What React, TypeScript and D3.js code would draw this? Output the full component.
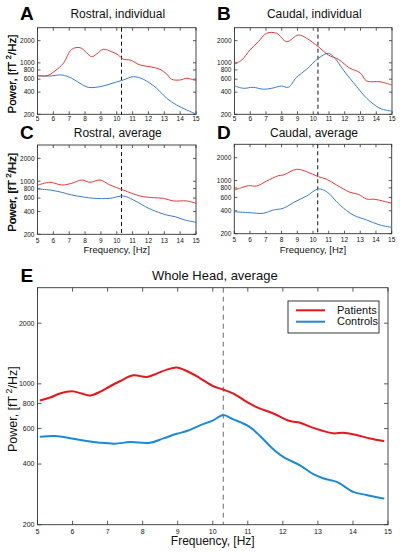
import React from "react";
import * as d3 from "d3";

// ---------- data ----------
const freqTicks = [5, 6, 7, 8, 9, 10, 11, 12, 13, 14, 15];
const powerTicks = [200, 400, 600, 800, 1000, 2000];
const alphaPeak = 10.3;

const rostralIndividualPatients: [number, number][] = [
  [5.05, 668], [5.6, 668], [6.1, 775], [6.63, 986], [7.16, 1527], [7.68, 1606], [8.1, 1374],
  [8.42, 1211], [8.73, 1318], [9.15, 1527], [9.68, 1416], [10.1, 1277], [10.41, 1117],
  [10.84, 1092], [11.47, 935], [12.1, 886], [12.73, 817], [13.15, 705], [13.47, 597],
  [14.0, 585], [14.42, 617], [15.0, 572],
];
const rostralIndividualControls: [number, number][] = [
  [5.05, 668], [5.79, 662], [6.53, 684], [7.16, 617], [7.68, 527], [8.2, 465], [8.94, 474],
  [9.57, 515], [10.41, 585], [11.05, 648], [11.68, 597], [12.52, 451], [13.15, 330],
  [13.78, 267], [14.42, 229], [15.0, 201],
];
const caudalIndividualPatients: [number, number][] = [
  [5.03, 964], [5.46, 1092], [5.98, 1493], [6.51, 1937], [7.04, 2518], [7.68, 2518], [8.31, 1937],
  [9.05, 2387], [9.58, 2154], [10.32, 1656], [10.96, 1277], [11.59, 1117], [12.33, 843],
  [12.97, 735], [13.39, 567], [14.24, 554], [14.98, 500],
];
const caudalIndividualControls: [number, number][] = [
  [5.03, 484], [5.56, 451], [6.19, 465], [6.83, 438], [7.36, 451], [7.99, 484], [8.41, 465],
  [8.94, 636], [9.58, 817], [10.32, 1151], [10.96, 1347], [11.38, 1151], [11.91, 800],
  [12.76, 474], [13.39, 330], [14.24, 241], [14.98, 221],
];
const rostralAveragePatients: [number, number][] = [
  [5.05, 892], [5.79, 968], [6.53, 892], [7.16, 939], [7.79, 1038], [8.31, 968], [8.94, 1038],
  [9.57, 892], [10.41, 766], [11.47, 639], [12.31, 607], [12.94, 596], [13.57, 550],
  [14.42, 550], [15.0, 512],
];
const rostralAverageControls: [number, number][] = [
  [5.05, 790], [5.79, 766], [6.53, 714], [7.16, 659], [7.89, 620], [8.52, 596], [9.57, 596],
  [10.41, 639], [11.05, 566], [12.1, 431], [13.15, 359], [13.68, 341], [14.31, 308], [15.0, 288],
];
const caudalAveragePatients: [number, number][] = [
  [5.0, 752], [5.47, 806], [5.89, 857], [6.42, 849], [7.06, 987], [7.8, 1159], [8.11, 1184],
  [8.96, 1407], [9.6, 1309], [10.34, 1125], [10.87, 1040], [11.5, 875], [12.35, 701],
  [12.88, 660], [13.41, 572], [13.94, 566], [15.0, 502],
];
const caudalAverageControls: [number, number][] = [
  [5.0, 389], [5.99, 378], [6.84, 371], [7.48, 410], [8.11, 432], [8.86, 527], [9.6, 627],
  [10.34, 775], [10.87, 714], [11.71, 477], [12.56, 352], [13.41, 303], [14.26, 260], [15.0, 243],
];
const wholeHeadPatients: [number, number][] = [
  [5.09, 830], [5.36, 855], [5.64, 895], [5.98, 919], [6.26, 895], [6.5, 875], [6.78, 912],
  [7.07, 973], [7.35, 1030], [7.73, 1102], [8.12, 1082], [8.4, 1124], [8.69, 1177], [8.97, 1205],
  [9.26, 1158], [9.62, 1072], [10.02, 973], [10.3, 937], [10.59, 895], [10.97, 814], [11.3, 760],
  [11.73, 713], [12.2, 654], [12.49, 641], [12.87, 605], [13.44, 568], [13.72, 572], [14.1, 557],
  [14.49, 536], [14.87, 520],
];
const wholeHeadControls: [number, number][] = [
  [5.09, 547], [5.5, 551], [5.98, 536], [6.4, 520], [6.78, 510], [7.21, 505], [7.64, 514],
  [8.21, 510], [8.59, 536], [8.97, 565], [9.26, 583], [9.62, 620], [10.02, 661], [10.3, 700],
  [10.59, 666], [11.02, 617], [11.35, 551], [11.68, 482], [12.01, 434], [12.49, 394], [12.87, 356],
  [13.15, 340], [13.54, 326], [14.01, 291], [14.39, 281], [14.87, 270],
];
const legendLabels = ["Patients", "Controls"];

// ---------- layout ----------
const FONT = "'Liberation Sans', Arial, Helvetica, sans-serif";

type Panel = {
  letter: string; title: string;
  x0: number; x1: number; y0: number; y1: number;
  patients: [number, number][]; controls: [number, number][];
  big: boolean; xLabel: boolean;
  titleY: number; letterY: number; letterX: number;
};

const panels: Panel[] = [
  { letter: "A", title: "Rostral, individual", x0: 37.5, x1: 196, y0: 27.7, y1: 114.3,
    patients: rostralIndividualPatients, controls: rostralIndividualControls, big: false, xLabel: false,
    titleY: 18, letterY: 20, letterX: 20 },
  { letter: "B", title: "Caudal, individual", x0: 234.5, x1: 392, y0: 27.7, y1: 114.3,
    patients: caudalIndividualPatients, controls: caudalIndividualControls, big: false, xLabel: false,
    titleY: 18, letterY: 20, letterX: 217 },
  { letter: "C", title: "Rostral, average", x0: 37.5, x1: 196, y0: 145, y1: 234.3,
    patients: rostralAveragePatients, controls: rostralAverageControls, big: false, xLabel: true,
    titleY: 137, letterY: 139, letterX: 20 },
  { letter: "D", title: "Caudal, average", x0: 234.3, x1: 391.7, y0: 144.3, y1: 233.7,
    patients: caudalAveragePatients, controls: caudalAverageControls, big: false, xLabel: true,
    titleY: 137, letterY: 139, letterX: 217 },
  { letter: "E", title: "Whole Head, average", x0: 37.5, x1: 388, y0: 287.7, y1: 524.7,
    patients: wholeHeadPatients, controls: wholeHeadControls, big: true, xLabel: true,
    titleY: 280, letterY: 282, letterX: 20.5 },
];

function PowerLabel({ x, y, size }: { x: number; y: number; size: number }) {
  return (
    <text transform={`translate(${x},${y}) rotate(-90)`} textAnchor="middle" fontSize={size}
      fontFamily={FONT} fill="#111">
      <tspan>Power, [fT</tspan>
      <tspan dy={-size * 0.4} fontSize={size * 0.7}>{" 2"}</tspan>
      <tspan dy={size * 0.4}>/Hz]</tspan>
    </text>
  );
}

function PanelView({ p }: { p: Panel }) {
  const x = d3.scaleLinear().domain([5, 15]).range([p.x0, p.x1]);
  const y = d3.scaleLog().domain([200, 3000]).range([p.y1, p.y0]);
  const line = d3.line<[number, number]>().x((d) => x(d[0])).y((d) => y(d[1]))
    .curve(d3.curveCatmullRom.alpha(0.5));
  const tick = p.big ? 4 : 3;
  const tickFont = p.big ? 7 : 6.5;
  const red = p.big ? "#e8161c" : "#e23a3e";
  const blue = p.big ? "#1b8ad6" : "#3d7ccb";
  const lw = p.big ? 2 : 1;
  const cx = (p.x0 + p.x1) / 2;
  const xTickBase = p.y1 + (p.big ? 9.5 : p.xLabel ? 8.5 : 7);
  return (
    <g>
      <text x={p.letterX} y={p.letterY} fontSize={19} fontWeight="bold" fontFamily={FONT} fill="#000">
        {p.letter}
      </text>
      <text x={cx + (p.big ? 2 : 1)} y={p.titleY} textAnchor="middle" fontSize={p.big ? 13 : 12}
        fontFamily={FONT} fill="#111">{p.title}</text>
      <rect x={p.x0} y={p.y0} width={p.x1 - p.x0} height={p.y1 - p.y0} fill="#fff"
        stroke="#333" strokeWidth={0.9} />
      {freqTicks.map((t) => (
        <g key={"xt" + t}>
          <line x1={x(t)} x2={x(t)} y1={p.y1} y2={p.y1 - tick} stroke="#333" strokeWidth={0.8} />
          <line x1={x(t)} x2={x(t)} y1={p.y0} y2={p.y0 + tick} stroke="#333" strokeWidth={0.8} />
          <text x={x(t)} y={xTickBase} textAnchor="middle" fontSize={tickFont} fontFamily={FONT}
            fill="#111">{t}</text>
        </g>
      ))}
      {powerTicks.map((t) => (
        <g key={"yt" + t}>
          <line x1={p.x0} x2={p.x0 + tick} y1={y(t)} y2={y(t)} stroke="#333" strokeWidth={0.8} />
          <line x1={p.x1} x2={p.x1 - tick} y1={y(t)} y2={y(t)} stroke="#333" strokeWidth={0.8} />
          <text x={p.x0 - 3} y={y(t) + tickFont * 0.35} textAnchor="end" fontSize={tickFont}
            fontFamily={FONT} fill="#111">{t}</text>
        </g>
      ))}
      <line x1={x(alphaPeak)} x2={x(alphaPeak)} y1={p.y0} y2={p.y1}
        stroke={p.big ? "#444" : "#111"} strokeWidth={p.big ? 0.8 : 1}
        strokeDasharray={p.big ? "5,4" : "4,3"} />
      <path d={line(p.controls) || ""} fill="none" stroke={blue} strokeWidth={lw}
        strokeLinejoin="round" strokeLinecap="round" />
      <path d={line(p.patients) || ""} fill="none" stroke={red} strokeWidth={lw}
        strokeLinejoin="round" strokeLinecap="round" />
      {p.xLabel && (
        <text x={cx} y={p.y1 + (p.big ? 20.5 : 19)} textAnchor="middle" fontSize={p.big ? 12 : 9.5}
          fontFamily={FONT} fill="#111">Frequency, [Hz]</text>
      )}
      <PowerLabel x={p.big ? 17 : 16} y={(p.y0 + p.y1) / 2 + 3} size={p.big ? 12.5 : 11.5} />
      {p.big && (
        <g>
          <rect x={288} y={301} width={91} height={32} fill="#fff" stroke="#222" strokeWidth={0.9} />
          {legendLabels.map((lab, i) => (
            <g key={lab}>
              <line x1={296} x2={325} y1={310.3 + i * 11.4} y2={310.3 + i * 11.4}
                stroke={i === 0 ? red : blue} strokeWidth={2} />
              <text x={337} y={314 + i * 11} fontSize={11} fontFamily={FONT} fill="#111">{lab}</text>
            </g>
          ))}
        </g>
      )}
    </g>
  );
}

export default function App() {
  return (
    <svg width={400} height={556} viewBox="0 0 400 556"
      style={{ position: "absolute", left: 0, top: 0, background: "#fff" }}>
      <rect x={0} y={0} width={400} height={556} fill="#fff" />
      {panels.map((p) => <PanelView key={p.letter} p={p} />)}
    </svg>
  );
}
